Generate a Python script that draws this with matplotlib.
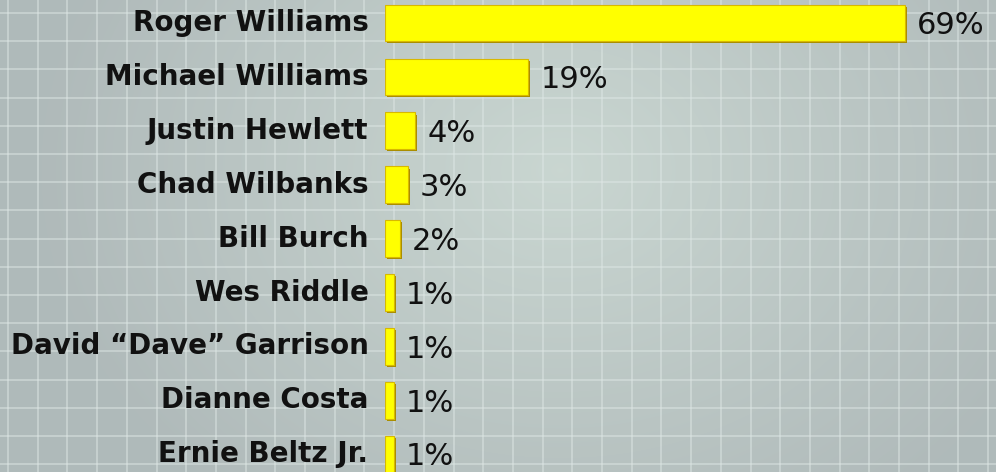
import numpy as np
import matplotlib.pyplot as plt
from matplotlib import font_manager

candidates = ["Roger Williams", "Michael Williams", "Justin Hewlett", "Chad Wilbanks",
              "Bill Burch", "Wes Riddle", "David \u201cDave\u201d Garrison",
              "Dianne Costa", "Ernie Beltz Jr."]
shares = [69, 19, 4, 3, 2, 1, 1, 1, 1]
share_labels = ["69%", "19%", "4%", "3%", "2%", "1%", "1%", "1%", "1%"]

W, H = 996, 472
names = {f.name for f in font_manager.fontManager.ttflist}
name_font = ["Liberation Sans Narrow", "DejaVu Sans"] if "Liberation Sans Narrow" in names else ["DejaVu Sans"]

fig = plt.figure(figsize=(W / 100, H / 100), dpi=100)

# background with soft radial light and grid
bg = fig.add_axes([0, 0, 1, 1])
yy, xx = np.mgrid[0:H, 0:W]
r = np.sqrt(((xx - 560) / 520) ** 2 + ((yy - 170) / 420) ** 2)
light = np.clip(1 - r, 0, 1)
c0 = np.array([0.69, 0.73, 0.73])
c1 = np.array([0.79, 0.84, 0.82])
img = c0 + (c1 - c0) * light[..., None]
bg.imshow(img, extent=(0, W, H, 0), aspect="auto", zorder=0)
for gx in np.arange(8, W, 29.7):
    bg.axvline(gx, color="#dfe8e6", lw=1.1, alpha=0.6, zorder=1)
for gy in np.arange(13, H, 28.2):
    bg.axhline(gy, color="#dfe8e6", lw=1.1, alpha=0.6, zorder=1)
bg.set_xlim(0, W)
bg.set_ylim(H, 0)
bg.axis("off")

# bar chart
x0 = 385
px_per_pct = 7.54
ax = fig.add_axes([x0 / W, 0, 1 - x0 / W, 1])
ax.patch.set_alpha(0)
ax.set_xlim(0, (W - x0) / px_per_pct)
ax.set_ylim(8.33, -0.427)

y = np.arange(len(candidates))
widths = np.maximum(shares, 1.15)
ax.barh(y + 0.04, widths, height=0.68, left=0.25, color="#a88c00", zorder=2)
ax.barh(y, widths, height=0.68, color="#ffff00", edgecolor="#d8b800", lw=0.8, zorder=3)

for yi, w, lab in zip(y, widths, share_labels):
    ax.text(w + 1.6, yi + 0.05, lab, va="center", ha="left", fontsize=22,
            color="#111111", family=["DejaVu Sans"])
for yi, name in zip(y, candidates):
    ax.text(-2.2, yi, name, va="center", ha="right", fontsize=20, fontweight="bold",
            color="#111111", family=name_font, clip_on=False)

ax.axis("off")
fig.savefig("out.png", dpi=100)
